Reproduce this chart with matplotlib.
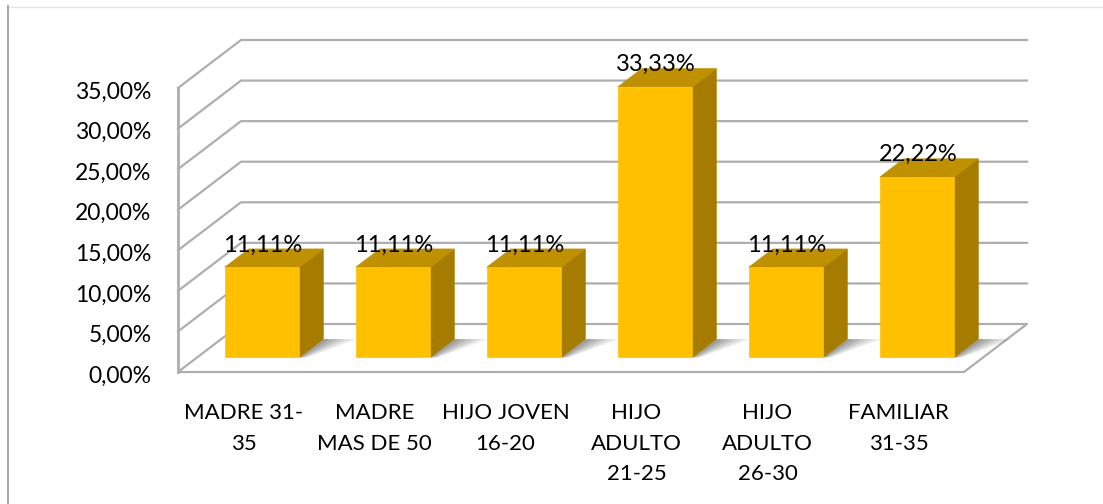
import matplotlib
matplotlib.use("Agg")
import matplotlib.pyplot as plt
from matplotlib.lines import Line2D
from matplotlib.patches import Polygon
from matplotlib.transforms import ScaledTranslation

plt.rcParams["font.family"] = ["Lato", "DejaVu Sans"]

# Daten
categories = ["MADRE 31-\n35", "MADRE\nMAS DE 50", "HIJO JOVEN\n16-20",
              "HIJO\nADULTO\n21-25", "HIJO\nADULTO\n26-30", "FAMILIAR\n31-35"]
values = [11.11, 11.11, 11.11, 33.33, 11.11, 22.22]
y_ticks = [0, 5, 10, 15, 20, 25, 30, 35]

W, H = 1103, 504
GRID = "#aeaeae"
FRONT = "#ffc000"
TOP = "#bf9000"
SIDE = "#a67c00"

# Pseudo-3D: Versatz der Rueckwand in Dateneinheiten
DX = 63 / 131
DY = 48 / (284 / 35)
BAR_W = 74.5 / 131
D0, D1 = 0.305, 0.685


def lab(v):
    return f"{v:.2f}".replace(".", ",") + "%"


fig = plt.figure(figsize=(W / 100, H / 100), dpi=100)
ax = fig.add_axes([178 / W, 1 - 372 / H, 786 / W, 284 / H])
ax.set_xlim(-0.5, 5.5)
ax.set_ylim(0, 35)
for s in ax.spines.values():
    s.set_visible(False)
ax.patch.set_visible(False)

# Gitter und Boden
for t in y_ticks[1:]:
    ax.plot([-0.5, -0.5 + DX, 5.5 + DX], [t, t + DY, t + DY], color=GRID, lw=1.6, clip_on=False, zorder=1)
ax.plot([-0.5 + DX, 5.5 + DX, 5.5, -0.5, -0.5 + DX], [DY, DY, 0, 0, DY], color=GRID, lw=1.6, clip_on=False, zorder=1)
ax.plot([-0.5, -0.5], [0, 35], color=GRID, lw=2, clip_on=False, zorder=1)

# Balken
for i, v in enumerate(values):
    x0 = i - BAR_W / 2 + 0.295 * DX
    x1 = x0 + BAR_W
    y0 = D0 * DY
    dx = (D1 - D0) * DX
    dy = (D1 - D0) * DY
    # weicher Schatten
    for k, a in zip([1.0, 0.8, 0.6, 0.4, 0.2], [0.10, 0.13, 0.16, 0.20, 0.24]):
        ax.add_patch(Polygon([(x0 - 0.12 * k, y0), (x1, y0), (x1 + dx, y0 + dy),
                              (x1 + dx + 0.26 * k, y0 + dy), (x1 + 0.06 * k, y0)],
                             fc="#606060", ec="none", alpha=a, clip_on=False, zorder=2))
    ax.add_patch(Polygon([(x1, y0), (x1 + dx, y0 + dy), (x1 + dx, y0 + dy + v), (x1, y0 + v)],
                         fc=SIDE, ec=SIDE, lw=0.5, clip_on=False, zorder=3))
    ax.add_patch(Polygon([(x0, y0 + v), (x1, y0 + v), (x1 + dx, y0 + dy + v), (x0 + dx, y0 + dy + v)],
                         fc=TOP, ec=TOP, lw=0.5, clip_on=False, zorder=3))
    ax.add_patch(Polygon([(x0, y0), (x1, y0), (x1, y0 + v), (x0, y0 + v)],
                         fc=FRONT, ec=FRONT, lw=0.5, clip_on=False, zorder=4))
    ax.annotate(lab(v), xy=((x0 + x1) / 2, y0 + v), xytext=(0.5, 16), textcoords="offset points",
                ha="center", va="center", fontsize=17, color="black", zorder=5, annotation_clip=False)

ax.set_xticks(range(len(categories)))
ax.set_xticklabels(categories, fontsize=16, linespacing=1.66, color="black")
ax.set_yticks(y_ticks)
ax.set_yticklabels([lab(t) for t in y_ticks], fontsize=16.5, color="black")
ax.tick_params(axis="both", length=0)
ax.tick_params(axis="x", pad=22.5)
ax.tick_params(axis="y", pad=19)
for t in ax.get_yticklabels():
    t.set_transform(t.get_transform() + ScaledTranslation(0, -1.5 / 72, fig.dpi_scale_trans))

# Rahmen der Abbildung
fig.add_artist(Line2D([8 / W, 1], [1 - 6.5 / H, 1 - 6.5 / H], color="#e6e6e6", lw=1))
fig.add_artist(Line2D([7.5 / W, 7.5 / W], [0, 1 - 6 / H], color="#a0a0a0", lw=1.3))

fig.savefig("out.png", dpi=100)
